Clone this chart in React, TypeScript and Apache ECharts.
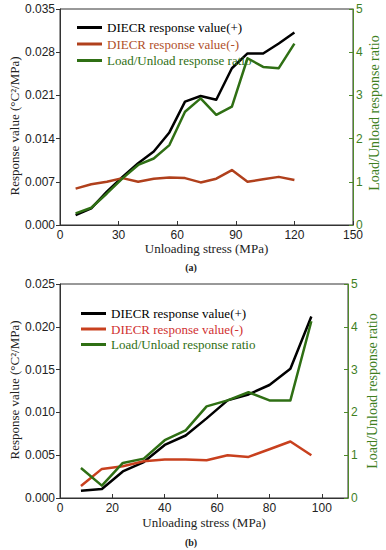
import React, { useEffect, useRef } from "react";
import * as echarts from "echarts";

const xA = [8, 16, 24, 32, 40, 48, 56, 64, 72, 80, 88, 96, 104, 112, 120];
const plusA = [0.0016, 0.0027, 0.0054, 0.0078, 0.0100, 0.0119, 0.0150, 0.0200, 0.0209, 0.0203, 0.0254, 0.0278, 0.0278, 0.0294, 0.0312];
const minusA = [0.0059, 0.0066, 0.0070, 0.0076, 0.0070, 0.0075, 0.0077, 0.0076, 0.0069, 0.0075, 0.0089, 0.0070, 0.0074, 0.0078, 0.0073];
const ratioA = [0.27, 0.40, 0.73, 1.08, 1.39, 1.54, 1.85, 2.62, 2.93, 2.55, 2.74, 3.86, 3.66, 3.63, 4.2];

const xB = [8, 16, 24, 32, 40, 48, 56, 64, 72, 80, 88, 96];
const plusB = [0.00085, 0.00105, 0.0031, 0.0042, 0.0062, 0.0073, 0.0093, 0.0114, 0.0121, 0.0132, 0.0151, 0.0212];
const minusB = [0.0014, 0.0034, 0.0037, 0.0043, 0.0045, 0.0045, 0.0044, 0.0050, 0.0048, 0.0057, 0.0066, 0.0050];
const ratioB = [0.70, 0.29, 0.82, 0.92, 1.35, 1.58, 2.14, 2.28, 2.47, 2.28, 2.28, 4.13];

const names = ["DIECR response value(+)", "DIECR response value(-)", "Load/Unload response ratio"];

const SERIF = "Liberation Serif";
const SANS = "Liberation Sans";
const AX = "#333";
const GREEN_AX = "#4f8a2a";
const GREEN = "#2f6f14";
const RED_A = "#b0401c";
const RED_B = "#c8401e";

const zip = (xs: number[], ys: number[]) => xs.map((x, i) => [x, ys[i]]);

export default function App() {
  const ref = useRef<HTMLDivElement>(null);
  useEffect(() => {
    if (!ref.current) return;
    const chart = echarts.init(ref.current, null, { renderer: "svg" });

    const xAxisCfg = (gi: number, max: number, interval: number, nameGap: number, showMax: boolean) => ({
      type: "value",
      gridIndex: gi,
      min: 0,
      max,
      interval,
      name: "Unloading stress (MPa)",
      nameLocation: "middle",
      nameGap,
      nameTextStyle: { fontFamily: SERIF, fontSize: 13, color: "#222" },
      axisLine: { lineStyle: { color: AX, width: 1 } },
      axisTick: { inside: true, length: 4, lineStyle: { color: AX } },
      axisLabel: { margin: 4, fontFamily: SANS, fontSize: 12, color: "#222", showMaxLabel: showMax },
      splitLine: { show: false },
    });
    const yLeftCfg = (gi: number, max: number, interval: number) => ({
      type: "value",
      gridIndex: gi,
      position: "left",
      min: 0,
      max,
      interval,
      axisLine: { show: true, lineStyle: { color: AX, width: 1 } },
      axisTick: { show: true, inside: false, length: 4, lineStyle: { color: AX } },
      axisLabel: {
        margin: 5,
        fontFamily: SANS,
        fontSize: 12,
        color: "#222",
        formatter: (v: number) => v.toFixed(3),
      },
      splitLine: { show: false },
    });
    const yRightCfg = (gi: number) => ({
      type: "value",
      gridIndex: gi,
      position: "right",
      min: 0,
      max: 5,
      interval: 1,
      axisLine: { show: true, lineStyle: { color: GREEN_AX, width: 1 } },
      axisTick: { show: true, inside: true, length: 4, lineStyle: { color: GREEN_AX } },
      axisLabel: { margin: 3, fontFamily: SANS, fontSize: 12, color: "#3f7f1f" },
      splitLine: { show: false },
    });

    const line = (name: string, xi: number, yi: number, data: number[][], color: string) => ({
      type: "line",
      name,
      xAxisIndex: xi,
      yAxisIndex: yi,
      data,
      symbol: "none",
      color,
      lineStyle: { color, width: 2.5, join: "round" },
    });

    const legendCfg = (left: number, top: number, gap: number, red: string, redText: string) => ({
      orient: "vertical",
      left,
      top,
      itemWidth: 25,
      itemHeight: 3,
      itemGap: gap,
      icon: "rect",
      selectedMode: false,
      textStyle: { fontFamily: SERIF, fontSize: 13, lineHeight: 15 },
      data: [
        { name: names[0], itemStyle: { color: "#000" }, textStyle: { color: "#000" } },
        { name: names[1], itemStyle: { color: red }, textStyle: { color: redText } },
        { name: names[2], itemStyle: { color: GREEN }, textStyle: { color: GREEN } },
      ],
    });

    const vText = (x: number, y: number, text: string, color: string, size: number) => ({
      type: "text",
      x,
      y,
      rotation: Math.PI / 2,
      style: {
        text,
        fill: color,
        font: `${size}px "${SERIF}"`,
        textAlign: "center",
        textVerticalAlign: "middle",
      },
    });
    const hText = (x: number, y: number, text: string) => ({
      type: "text",
      x,
      y,
      style: {
        text,
        fill: "#222",
        font: `bold 10px "${SERIF}"`,
        textAlign: "center",
        textVerticalAlign: "middle",
      },
    });

    chart.setOption({
      animation: false,
      backgroundColor: "#fff",
      grid: [
        { left: 60, top: 9, width: 293, height: 216, show: true, borderColor: AX, borderWidth: 1, backgroundColor: "transparent" },
        { left: 60, top: 284, width: 288, height: 214, show: true, borderColor: AX, borderWidth: 1, backgroundColor: "transparent" },
      ],
      xAxis: [xAxisCfg(0, 150, 30, 16, true), xAxisCfg(1, 110, 20, 18, false)],
      yAxis: [
        yLeftCfg(0, 0.035, 0.007),
        yRightCfg(0),
        yLeftCfg(1, 0.025, 0.005),
        yRightCfg(1),
      ],
      legend: [legendCfg(72, 15, 1.5, RED_A, "#b0502a"), legendCfg(76, 301, 0.5, RED_B, "#d03030")],
      series: [
        line(names[0], 0, 0, zip(xA, plusA), "#000"),
        line(names[1], 0, 0, zip(xA, minusA), RED_A),
        line(names[2], 0, 1, zip(xA, ratioA), GREEN),
        line(names[0], 1, 2, zip(xB, plusB), "#000"),
        line(names[1], 1, 2, zip(xB, minusB), RED_B),
        line(names[2], 1, 3, zip(xB, ratioB), GREEN),
      ],
      graphic: [
        vText(14, 126, "Response value (°C²/MPa)", "#222", 13),
        vText(374, 113, "Load/Unload response ratio", "#3f7f1f", 14),
        vText(14, 390, "Response value (°C²/MPa)", "#222", 13),
        vText(372, 391, "Load/Unload response ratio", "#3f7f1f", 14),
        hText(191, 267, "(a)"),
        hText(191, 542, "(b)"),
      ],
    });
    return () => chart.dispose();
  }, []);
  return (
    <div
      ref={ref}
      style={{ position: "absolute", left: 0, top: 0, width: 386, height: 550 }}
    />
  );
}
